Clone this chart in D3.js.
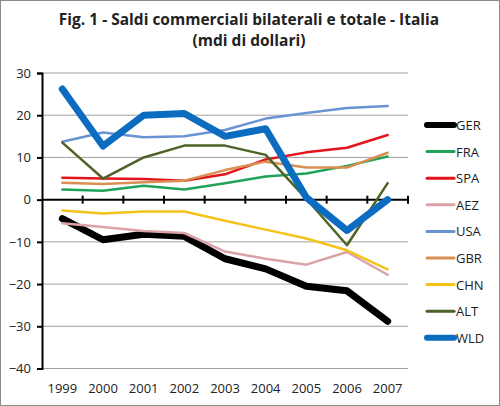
<!DOCTYPE html>
<head>
<meta charset="utf-8">
<script src="https://cdn.jsdelivr.net/npm/d3@7"></script>
<style>
  body { margin: 0; background: #fff; }
  text { font-family: "Open Sans", "Liberation Sans", sans-serif; fill: #222; }
</style>
</head>
<body>
<div id="chart"></div>
<script>
// anni e saldi (mdi di dollari)
const years = ["1999", "2000", "2001", "2002", "2003", "2004", "2005", "2006", "2007"];
const GER = [-4.5, -9.5, -8.2, -8.7, -14.0, -16.4, -20.5, -21.6, -28.8];
const FRA = [2.4, 2.1, 3.3, 2.4, 3.9, 5.5, 6.2, 8.0, 10.2];
const SPA = [5.2, 5.0, 4.9, 4.5, 6.0, 9.5, 11.2, 12.3, 15.3];
const AEZ = [-5.6, -6.5, -7.4, -7.9, -12.3, -14.0, -15.4, -12.4, -17.8];
const USA = [13.7, 15.9, 14.8, 15.0, 16.5, 19.2, 20.5, 21.7, 22.2];
const GBR = [4.0, 3.7, 4.1, 4.5, 7.0, 9.0, 7.6, 7.6, 11.1];
const CHN = [-2.6, -3.3, -2.8, -2.8, -5.0, -7.1, -9.2, -12.0, -16.5];
const ALT = [13.5, 5.0, 10.0, 12.8, 12.8, 10.6, 0.2, -10.8, 3.9];
const WLD = [26.2, 12.7, 20.0, 20.4, 15.0, 16.8, 0.5, -7.3, 0.0];
const yTicks = [-40, -30, -20, -10, 0, 10, 20, 30];

const series = [
    { name: "GER", values: GER, color: "#000000", width: 7 },
    { name: "FRA", values: FRA, color: "#1fa35a", width: 2.5 },
    { name: "SPA", values: SPA, color: "#e3141b", width: 2.5 },
    { name: "AEZ", values: AEZ, color: "#d9a3a8", width: 2.5 },
    { name: "USA", values: USA, color: "#6a93d3", width: 2.5 },
    { name: "GBR", values: GBR, color: "#d98f50", width: 2.5 },
    { name: "CHN", values: CHN, color: "#f5c21a", width: 2.5 },
    { name: "ALT", values: ALT, color: "#4f6228", width: 2.5 },
    { name: "WLD", values: WLD, color: "#0b6cc0", width: 7 }
];

const width = 500, height = 406;
const plotLeft = 42, plotRight = 408, plotTop = 73, plotBottom = 368.5;

const svg = d3.select("#chart").append("svg")
    .attr("width", width)
    .attr("height", height);

// cornice
svg.append("rect")
    .attr("x", 0.5).attr("y", 0.5)
    .attr("width", width - 1).attr("height", height - 1)
    .attr("fill", "#fff").attr("stroke", "#8a8a8a");

// titolo, su due righe
const titleLines = ["Fig. 1 - Saldi commerciali bilaterali e totale - Italia", "(mdi di dollari)"];
svg.append("g")
    .selectAll("text")
    .data(titleLines)
    .join("text")
    .attr("x", 249)
    .attr("y", (d, i) => 25 + i * 21)
    .attr("text-anchor", "middle")
    .style("font-weight", "bold")
    .style("font-size", "15.5px")
    .text(d => d);

const x = d3.scaleBand().domain(years).range([plotLeft, plotRight]);
const y = d3.scaleLinear().domain([-40, 30]).range([plotBottom, plotTop]);

// griglia
svg.append("g")
    .selectAll("line")
    .data(yTicks.filter(d => d !== 0))
    .join("line")
    .attr("x1", plotLeft).attr("x2", plotRight)
    .attr("y1", d => y(d)).attr("y2", d => y(d))
    .attr("stroke", "#a0a0a0").attr("stroke-width", 1);

// asse y
const yAxis = svg.append("g")
    .attr("transform", `translate(${plotLeft},0)`)
    .call(d3.axisLeft(y).tickValues(yTicks).tickSize(5).tickPadding(6));
yAxis.select(".domain").attr("stroke", "#000").attr("stroke-width", 2);
yAxis.selectAll(".tick line").attr("stroke", "#000").attr("stroke-width", 2);
yAxis.selectAll("text").style("font-size", "13px").attr("fill", "#222")
    .style("font-family", "'Open Sans', sans-serif");

// asse x sullo zero
const xAxis = svg.append("g")
    .attr("transform", `translate(0,${y(0)})`);
xAxis.append("line")
    .attr("x1", plotLeft).attr("x2", plotRight)
    .attr("stroke", "#000").attr("stroke-width", 2);
xAxis.selectAll(".tk")
    .data(years)
    .join("line")
    .attr("class", "tk")
    .attr("x1", d => x(d) + x.bandwidth()).attr("x2", d => x(d) + x.bandwidth())
    .attr("y1", -4).attr("y2", 4)
    .attr("stroke", "#000").attr("stroke-width", 2);

// etichette anni in basso
svg.append("g")
    .selectAll("text")
    .data(years)
    .join("text")
    .attr("x", d => x(d) + x.bandwidth() / 2)
    .attr("y", 393)
    .attr("text-anchor", "middle")
    .style("font-size", "13px")
    .text(d => d);

// linee
const line = d3.line()
    .x((d, i) => x(years[i]) + x.bandwidth() / 2)
    .y(d => y(d));

svg.append("g")
    .selectAll("path")
    .data(series)
    .join("path")
    .attr("d", d => line(d.values))
    .attr("fill", "none")
    .attr("stroke", d => d.color)
    .attr("stroke-width", d => d.width)
    .attr("stroke-linejoin", "round")
    .attr("stroke-linecap", "round");

// legenda
const legend = svg.append("g")
    .selectAll("g")
    .data(series)
    .join("g")
    .attr("transform", (d, i) => `translate(427,${125 + i * 26.6})`);
legend.append("line")
    .attr("x1", 0).attr("x2", 27)
    .attr("stroke", d => d.color)
    .attr("stroke-width", d => d.width === 7 ? 6 : 3)
    .attr("stroke-linecap", "round");
legend.append("text")
    .attr("x", 29).attr("y", 5)
    .style("font-size", "13px")
    .text(d => d.name);
</script>
</body>
